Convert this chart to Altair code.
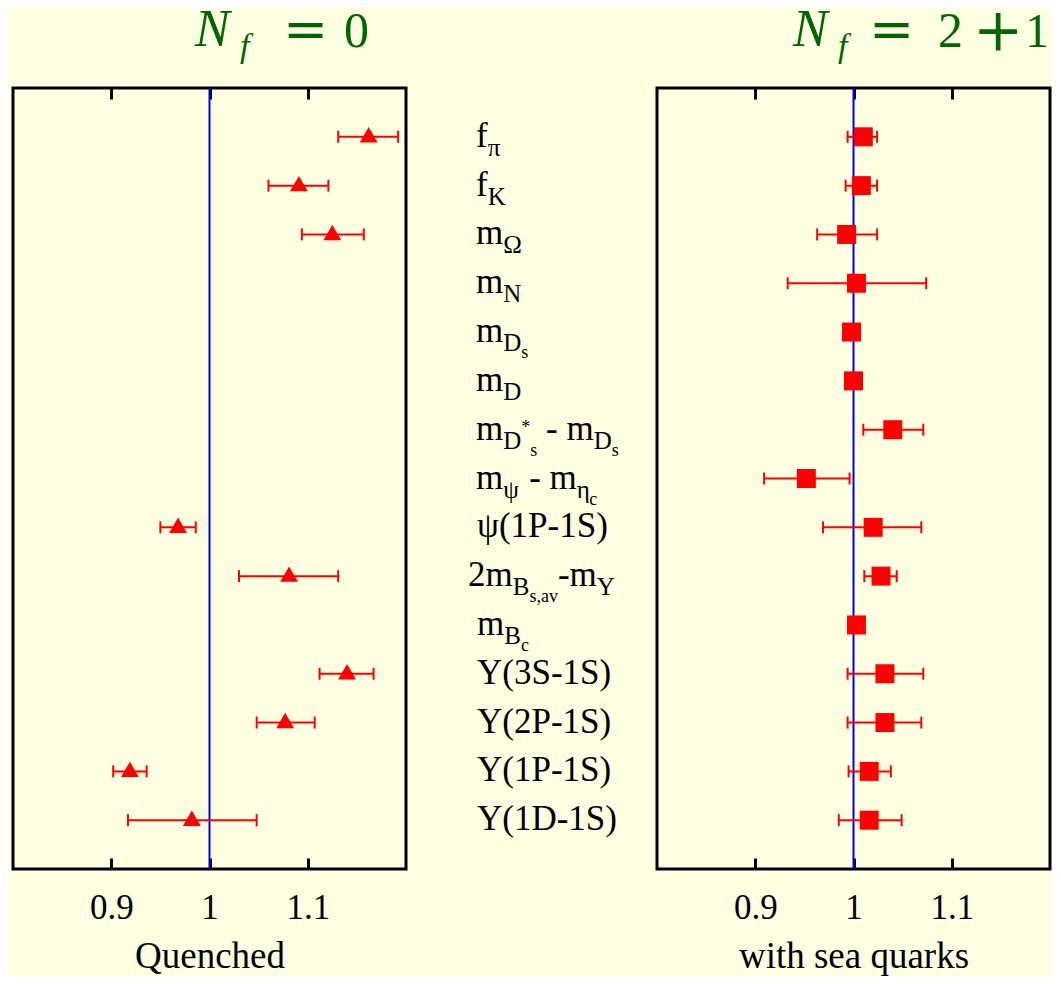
import altair as alt
import pandas as pd

# ---------------- data ----------------
rows = list(range(1, 16))
names = ["f_π", "f_K", "m_Ω", "m_N", "m_Ds", "m_D", "m_D*s - m_Ds", "m_ψ - m_ηc",
         "ψ(1P-1S)", "2m_Bs,av - m_Υ", "m_Bc", "Υ(3S-1S)", "Υ(2P-1S)", "Υ(1P-1S)", "Υ(1D-1S)"]
# label pieces: (text, level) level 0 = normal, 1 = subscript, 2 = sub-subscript, 3 = superscript on subscript
label_segments = [
    [("f", 0), ("π", 1)],
    [("f", 0), ("K", 1)],
    [("m", 0), ("Ω", 1)],
    [("m", 0), ("N", 1)],
    [("m", 0), ("D", 1), ("s", 2)],
    [("m", 0), ("D", 1)],
    [("m", 0), ("D", 1), ("*", 3), ("s", 2), (" - m", 0), ("D", 1), ("s", 2)],
    [("m", 0), ("ψ", 1), (" - m", 0), ("η", 1), ("c", 2)],
    [("ψ(1P-1S)", 0)],
    [("2m", 0), ("B", 1), ("s,av", 2), ("-m", 0), ("Υ", 1)],
    [("m", 0), ("B", 1), ("c", 2)],
    [("Υ(3S-1S)", 0)],
    [("Υ(2P-1S)", 0)],
    [("Υ(1P-1S)", 0)],
    [("Υ(1D-1S)", 0)],
]
label_indent = [0, 0, 0, 0, 0, 0, 0, 0, 1, -8, 1, 1, 1, 1, 1]

quenched_val = [1.162, 1.091, 1.125, None, None, None, None, None, 0.968, 1.081, None, 1.140, 1.077, 0.919, 0.982]
quenched_lo = [1.131, 1.060, 1.094, None, None, None, None, None, 0.950, 1.030, None, 1.112, 1.048, 0.902, 0.917]
quenched_hi = [1.192, 1.121, 1.157, None, None, None, None, None, 0.986, 1.131, None, 1.167, 1.107, 0.936, 1.048]

sea_val = [1.010, 1.008, 0.993, 1.003, 0.998, 1.000, 1.040, 0.952, 1.020, 1.028, 1.003, 1.032, 1.032, 1.016, 1.016]
sea_lo = [0.994, 0.992, 0.963, 0.933, None, None, 1.010, 0.909, 0.969, 1.011, None, 0.994, 0.994, 0.995, 0.985]
sea_hi = [1.024, 1.024, 1.024, 1.074, None, None, 1.071, 0.996, 1.069, 1.044, None, 1.071, 1.069, 1.038, 1.049]

tick_values = [0.9, 1.0, 1.1]
reference_value = [1.0]

# ---------------- styling ----------------
BG = "#FFFFE2"
RED = "#FF0000"
GREEN = "#006600"
SERIF = "Liberation Serif"
PANEL_W, MID_W, PANEL_H = 393, 251, 781

xscale = alt.Scale(domain=[0.8, 1.2], nice=False, zero=False)
yscale = alt.Scale(domain=[0, 16], reverse=True, nice=False, zero=False)


def bottom_axis(title):
    return alt.Axis(orient="bottom", values=tick_values, format="~g", offset=-11, tickSize=11,
                    tickWidth=3, tickColor="black", domain=False, grid=False,
                    labelFont=SERIF, labelFontSize=35, labelColor="black", labelPadding=21,
                    title=title, titleFont=SERIF, titleFontSize=37, titleFontWeight="normal",
                    titleColor="black", titlePadding=13)


top_axis = alt.Axis(orient="top", values=tick_values, offset=-11, tickSize=11, tickWidth=3,
                    tickColor="black", domain=False, grid=False, labels=False, title=None)


def panel(val, lo, hi, shape, size, yoff, axis_title, title_parts):
    pts = pd.DataFrame({"row": rows, "val": val, "lo": lo, "hi": hi}).dropna(subset=["val"])
    err = pts.dropna(subset=["lo", "hi"])
    caps = pd.concat([err[["row", "lo"]].rename(columns={"lo": "cap"}),
                      err[["row", "hi"]].rename(columns={"hi": "cap"})])

    ref = alt.Chart(pd.DataFrame({"x": reference_value})).mark_rule(
        color="#0000FF", strokeWidth=2).encode(
        x=alt.X("x:Q", scale=xscale, axis=bottom_axis(axis_title)))

    bars = alt.Chart(err).mark_rule(color=RED, strokeWidth=2).encode(
        x=alt.X("lo:Q", scale=xscale, axis=top_axis),
        x2="hi:Q",
        y=alt.Y("row:Q", scale=yscale, axis=None))

    capm = alt.Chart(caps).mark_rule(color=RED, strokeWidth=2, yOffset=-6, y2Offset=6).encode(
        x=alt.X("cap:Q", scale=xscale, axis=None),
        y=alt.Y("row:Q", scale=yscale, axis=None),
        y2="row:Q")

    marks = alt.Chart(pts).mark_point(shape=shape, filled=True, size=size, color=RED,
                                      opacity=1, yOffset=yoff).encode(
        x=alt.X("val:Q", scale=xscale, axis=None),
        y=alt.Y("row:Q", scale=yscale, axis=None))

    titles = []
    for txt, px, py, fs, style, font in title_parts:
        titles.append(alt.Chart(pd.DataFrame({"t": [txt]})).mark_text(
            align="left", baseline="alphabetic", font=font, fontSize=fs, fontStyle=style,
            color=GREEN).encode(text="t:N", x=alt.value(px), y=alt.value(py)))

    return alt.layer(ref, bars, capm, marks, *titles).resolve_axis(x="independent").properties(
        width=PANEL_W, height=PANEL_H)


left_title = [("N", 182, -42, 52, "italic", SERIF), ("f", 227, -31, 34, "italic", SERIF),
              ("=", 270, -40, 54, "normal", "DejaVu Serif"), ("0", 331, -41, 50, "normal", SERIF)]
right_title = [("N", 136, -42, 52, "italic", SERIF), ("f", 181, -31, 34, "italic", SERIF),
               ("=", 212, -40, 54, "normal", "DejaVu Serif"), ("2", 281, -41, 50, "normal", SERIF),
               ("+", 316, -38, 60, "normal", "DejaVu Serif"), ("1", 368, -41, 48, "normal", SERIF)]

left = panel(quenched_val, quenched_lo, quenched_hi, "triangle-up", 320, -2, "Quenched", left_title)
right = panel(sea_val, sea_lo, sea_hi, "square", 361, 0, "with sea quarks", right_title)

# ---------------- middle label column ----------------
CW = {'f': .333, 'm': .778, 'Υ': .722, 'Y': .722, '(': .333, ')': .333, '1': .5, '2': .5, '3': .5,
      'P': .556, 'S': .556, 'D': .722, '-': .333, ' ': .25, 'K': .722, 'N': .722, 'B': .667,
      's': .389, 'c': .444, 'a': .444, 'v': .5, ',': .25, '*': .5, 'ψ': .686, 'π': .55,
      'Ω': .768, 'η': .5}
LEVEL_FS = {0: 35, 1: 25, 2: 18, 3: 18}
LEVEL_DY = {0: 10, 1: 19, 2: 26, 3: 3}
START_X = 70

seg_rows = []
for r, segs, ind in zip(rows, label_segments, label_indent):
    cursor = START_X + ind
    for txt, lev in segs:
        fs = LEVEL_FS[lev]
        lead = len(txt) - len(txt.lstrip(" "))
        trail = len(txt) - len(txt.rstrip(" "))
        core = txt.strip(" ")
        cursor += lead * CW[" "] * fs
        seg_rows.append({"row": r, "txt": core, "lev": lev, "px": cursor})
        cursor += sum(CW.get(ch, .5) for ch in core) * fs + trail * CW[" "] * fs
seg_df = pd.DataFrame(seg_rows)

mid_layers = []
for lev in [0, 1, 2, 3]:
    mid_layers.append(alt.Chart(seg_df).transform_filter(alt.datum.lev == lev).mark_text(
        align="left", baseline="alphabetic", font=SERIF, fontSize=LEVEL_FS[lev],
        dy=LEVEL_DY[lev], color="black").encode(
        x=alt.X("px:Q", scale=None),
        y=alt.Y("row:Q", scale=yscale, axis=None),
        text="txt:N"))
middle = alt.layer(*mid_layers).properties(
    width=MID_W, height=PANEL_H, view=alt.ViewBackground(stroke="transparent"))

chart = alt.hconcat(left, middle, right, spacing=0, bounds="flush").configure(
    background=BG, padding={"left": 3, "top": -8, "right": 0, "bottom": 0}
).configure_view(stroke="black", strokeWidth=3)

chart.save("out.html", embed_options={"renderer": "svg", "actions": False})
